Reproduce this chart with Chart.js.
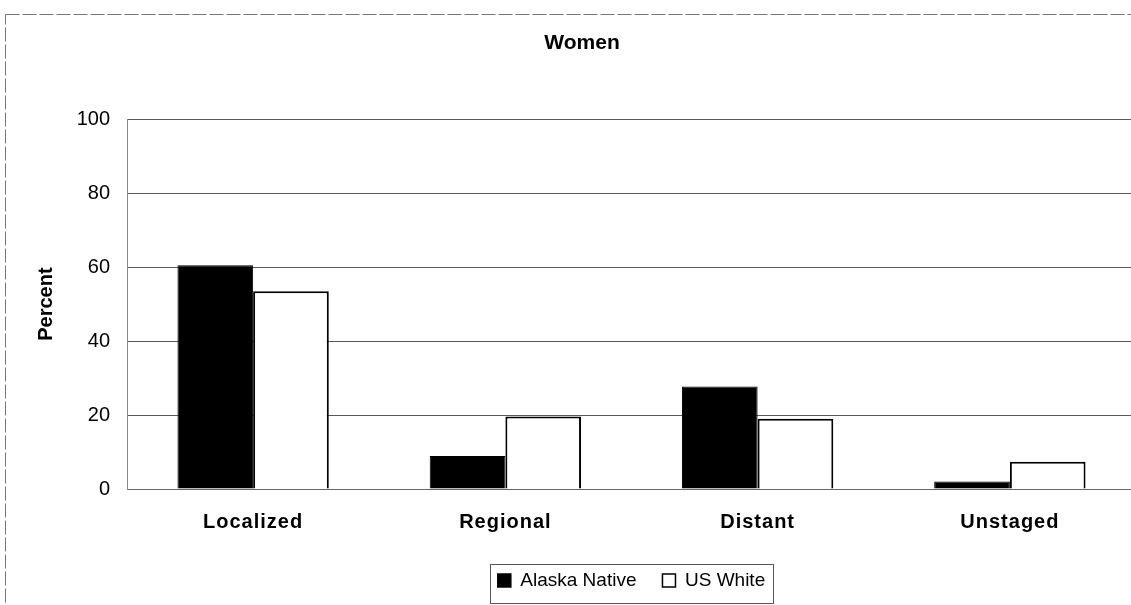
<!DOCTYPE html>
<html>
<head>
<meta charset="utf-8">
<script src="https://cdn.jsdelivr.net/npm/chart.js@4/dist/chart.umd.min.js"></script>
<style>
	html, body { margin:0; padding:0; background:#fff; overflow:hidden; }
	#wrap { width:1196px; height:605px; }
</style>
</head>
<body>
<div id="wrap"><canvas id="myChart" width="1196" height="605"></canvas></div>
<script>
var _labels = ['Localized', 'Regional', 'Distant', 'Unstaged'];
var _alaskaNative = [60.5, 8.9, 27.7, 2.0];
var _usWhite = [53.5, 19.6, 19.0, 7.4];
var _yTicks = [0, 20, 40, 60, 80, 100];

Chart.defaults.font.family = '"Liberation Sans", Arial, sans-serif';
Chart.defaults.color = '#000';

// dashed outer frame + box around legend
var framePlugin = {
	id: 'frame',
	beforeDraw: function(chart) {
		var ctx = chart.ctx;
		ctx.save();
		ctx.fillStyle = '#fff';
		ctx.fillRect(0, 0, chart.width, chart.height);
		ctx.strokeStyle = '#777';
		ctx.lineWidth = 1;
		ctx.setLineDash([14, 3]);
		ctx.strokeRect(5.5, 14.5, chart.width + 20, chart.height + 20);
		ctx.restore();
	},
	afterDraw: function(chart) {
		var hb = chart.legend.legendHitBoxes;
		if (!hb || !hb.length) return;
		var last = hb[hb.length - 1];
		var x1 = hb[0].left - 8;
		var x2 = last.left + last.width + 8;
		var y1 = hb[0].top - 7;
		var y2 = hb[0].top + hb[0].height + 13;
		var ctx = chart.ctx;
		ctx.save();
		ctx.strokeStyle = '#555';
		ctx.lineWidth = 1;
		ctx.setLineDash([]);
		ctx.strokeRect(Math.round(x1) + 0.5, Math.round(y1) + 0.5, Math.round(x2 - x1), Math.round(y2 - y1));
		ctx.restore();
	}
};

// a bit of letter spacing on the category labels, like the original
function _spaceLabels(scale) {
	if (scale._spaced) return;
	var orig = scale.drawLabels;
	scale.drawLabels = function(area) {
		var c = this.ctx;
		c.save();
		c.letterSpacing = '1px';
		orig.call(this, area);
		c.restore();
	};
	scale._spaced = true;
}

var _config = {
	type: 'bar',
	data: {
		labels: _labels,
		datasets: [{
			label: 'Alaska Native',
			data: _alaskaNative,
			backgroundColor: '#000',
			borderColor: '#000',
			borderWidth: 1,
			categoryPercentage: 0.6,
			barPercentage: 1.0
		}, {
			label: 'US White',
			data: _usWhite,
			backgroundColor: '#fff',
			borderColor: '#000',
			borderWidth: 2,
			categoryPercentage: 0.6,
			barPercentage: 1.0
		}]
	},
	options: {
		responsive: false,
		animation: false,
		layout: {
			padding: { left: 28, right: 60, top: 0, bottom: 5 }
		},
		plugins: {
			title: {
				display: true,
				text: 'Women',
				font: { size: 21, weight: 'bold' },
				padding: { top: 31, bottom: 63 }
			},
			legend: {
				position: 'bottom',
				fullSize: false,
				labels: {
					font: { size: 19 },
					boxWidth: 13,
					boxHeight: 13,
					padding: 26,
					generateLabels: function(chart) {
						return chart.data.datasets.map(function(ds, i) {
							return {
								text: ds.label,
								fillStyle: ds.backgroundColor,
								strokeStyle: '#000',
								lineWidth: 1.5,
								datasetIndex: i
							};
						});
					}
				}
			},
			tooltip: { enabled: false }
		},
		scales: {
			x: {
				grid: { display: false, drawTicks: false },
				border: { color: '#666', width: 1 },
				ticks: {
					font: { size: 20, weight: 'bold' },
					padding: 21
				},
				afterFit: function(scale) { scale.height = 56; },
				afterUpdate: _spaceLabels
			},
			y: {
				min: 0,
				max: 100,
				afterBuildTicks: function(scale) {
					scale.ticks = _yTicks.map(function(v) { return { value: v }; });
				},
				grid: {
					color: '#5a5a5a',
					lineWidth: 1,
					drawTicks: false
				},
				border: { color: '#888', width: 1 },
				ticks: {
					font: { size: 20 },
					padding: 17
				},
				title: {
					display: true,
					text: 'Percent',
					font: { size: 20, weight: 'bold' },
					padding: { top: 6, bottom: 0 }
				},
				afterFit: function(scale) { scale.width = 99; }
			}
		}
	},
	plugins: [framePlugin]
};

var myChart = new Chart(document.getElementById('myChart'), _config);
</script>
</body>
</html>
